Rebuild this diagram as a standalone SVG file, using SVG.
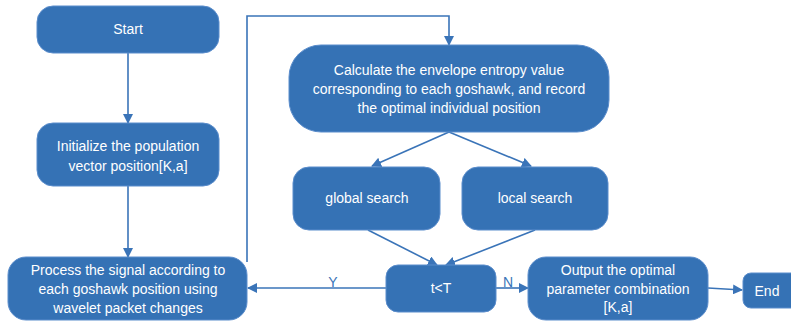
<svg xmlns="http://www.w3.org/2000/svg" width="791" height="323" viewBox="0 0 791 323">
<defs>
<marker id="ah" markerWidth="10" markerHeight="10" refX="9" refY="5" orient="auto" markerUnits="userSpaceOnUse">
<path d="M0,0 L10,5 L0,10 Z" fill="#3a74b8"/>
</marker>
<style>
.n{fill:#3572b5;stroke:#5b8dcc;stroke-width:1}
.t{fill:#ffffff;font-family:"Liberation Sans",Arial,sans-serif;font-size:14px;text-anchor:middle}
.c{fill:none;stroke:#3a74b8;stroke-width:1.6;marker-end:url(#ah)}
.l{fill:#3a74b8;font-family:"Liberation Sans",Arial,sans-serif;font-size:14px;text-anchor:middle}
</style>
</defs>
<rect width="791" height="323" fill="#ffffff"/>
<g id="connectors">
<path class="c" d="M128,53 L128,123"/>
<path class="c" d="M128,186 L128,257"/>
<path class="c" d="M247,262 L247,16 L449,16 L449,45"/>
<path class="c" d="M449,132 L372,166"/>
<path class="c" d="M449,132 L531,166"/>
<path class="c" d="M368,230 L437,265"/>
<path class="c" d="M535,230 L446,265"/>
<path class="c" d="M386,288 L248,288"/>
<path class="c" d="M496,288 L528,288"/>
<path class="c" d="M708,288 L742,290"/>
<text class="l" x="333" y="287">Y</text>
<text class="l" x="508" y="287">N</text>
</g>
<g id="start">
<rect class="n" x="37" y="6" width="182" height="47" rx="16"/>
<text class="t" x="128" y="34">Start</text>
</g>
<g id="init">
<rect class="n" x="37" y="123" width="182" height="63" rx="16"/>
<text class="t" x="128" y="151">Initialize the population</text>
<text class="t" x="128" y="171">vector position[K,a]</text>
</g>
<g id="process">
<rect class="n" x="8" y="257" width="239" height="63" rx="18"/>
<text class="t" x="128" y="275">Process the signal according to</text>
<text class="t" x="128" y="294">each goshawk position using</text>
<text class="t" x="128" y="313">wavelet packet changes</text>
</g>
<g id="calc">
<rect class="n" x="289" y="45" width="320" height="87" rx="32"/>
<text class="t" x="449" y="75">Calculate the envelope entropy value</text>
<text class="t" x="449" y="94">corresponding to each goshawk, and record</text>
<text class="t" x="449" y="113">the optimal individual position</text>
</g>
<g id="global">
<rect class="n" x="293" y="167" width="147" height="63" rx="16"/>
<text class="t" x="367" y="203">global search</text>
</g>
<g id="local">
<rect class="n" x="462" y="167" width="146" height="63" rx="16"/>
<text class="t" x="535" y="203">local search</text>
</g>
<g id="cond">
<rect class="n" x="386" y="265" width="110" height="47" rx="12"/>
<text class="t" x="441" y="293">t&lt;T</text>
</g>
<g id="output">
<rect class="n" x="528" y="257" width="180" height="63" rx="18"/>
<text class="t" x="618" y="275">Output the optimal</text>
<text class="t" x="618" y="294">parameter combination</text>
<text class="t" x="618" y="312">[K,a]</text>
</g>
<g id="end">
<rect class="n" x="743" y="273" width="60" height="35" rx="8"/>
<text class="t" x="767" y="296">End</text>
</g>
</svg>
